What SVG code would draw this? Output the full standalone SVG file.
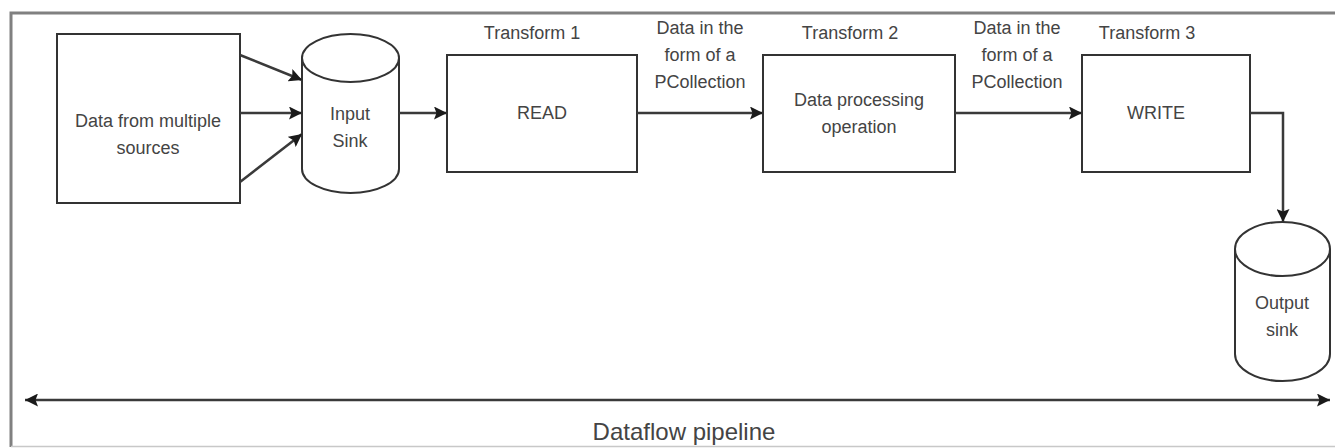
<svg xmlns="http://www.w3.org/2000/svg" width="1335" height="448" viewBox="0 0 1335 448">
<style>
.box{fill:#fff;stroke:#333;stroke-width:2}
.cyl{fill:#fff;stroke:#333;stroke-width:2}
.t{font-family:"Liberation Sans",Arial,sans-serif;font-size:18px;fill:#444;text-anchor:middle;dominant-baseline:central}
.big{font-size:24px}
.c{fill:none;stroke:#3a3a3a;stroke-width:2.5}
</style>
<defs>
<marker id="ah" markerUnits="userSpaceOnUse" markerWidth="14" markerHeight="13" refX="13" refY="6.5" orient="auto-start-reverse">
<path d="M0,0 L13,6.5 L0,13 L2.5,6.5 Z" fill="#1a1a1a"/>
</marker>
</defs>
<rect x="0" y="0" width="1335" height="448" fill="#fff"/>
<g id="frame">
<path d="M11,447 L11,13 L1335,13" fill="none" stroke="#808080" stroke-width="3"/>
<line x1="11" y1="446.5" x2="1335" y2="446.5" stroke="#c8c8c8" stroke-width="1.5"/>
</g>

<g id="sources">
<rect class="box" x="57" y="34" width="183" height="169"/>
<text class="t" x="148" y="121">Data from multiple</text>
<text class="t" x="148" y="148">sources</text>
</g>

<g id="input-sink">
<path class="cyl" d="M302,58 A48.5,24 0 0 1 399,58 L399,169 A48.5,24 0 0 1 302,169 Z"/>
<path class="cyl" d="M302,58 A48.5,24 0 0 0 399,58"/>
<text class="t" x="350" y="114">Input</text>
<text class="t" x="350" y="141">Sink</text>
</g>

<g id="read">
<text class="t" x="532" y="33">Transform 1</text>
<rect class="box" x="447" y="55" width="190" height="117"/>
<text class="t" x="542" y="113">READ</text>
</g>

<g id="process">
<text class="t" x="850" y="33">Transform 2</text>
<rect class="box" x="763" y="55" width="192" height="117"/>
<text class="t" x="859" y="100">Data processing</text>
<text class="t" x="859" y="127">operation</text>
</g>

<g id="write">
<text class="t" x="1147" y="33">Transform 3</text>
<rect class="box" x="1082" y="55" width="168" height="117"/>
<text class="t" x="1156" y="113">WRITE</text>
</g>

<g id="output-sink">
<path class="cyl" d="M1235,249 A47.5,27 0 0 1 1330,249 L1330,354 A47.5,27 0 0 1 1235,354 Z"/>
<path class="cyl" d="M1235,249 A47.5,27 0 0 0 1330,249"/>
<text class="t" x="1282" y="303">Output</text>
<text class="t" x="1282" y="330">sink</text>
</g>

<g id="labels">
<text class="t" x="700" y="28">Data in the</text>
<text class="t" x="700" y="55">form of a</text>
<text class="t" x="700" y="82">PCollection</text>
<text class="t" x="1017" y="28">Data in the</text>
<text class="t" x="1017" y="55">form of a</text>
<text class="t" x="1017" y="82">PCollection</text>
<text class="t big" x="684" y="431">Dataflow pipeline</text>
</g>

<g id="connectors">
<line class="c" x1="240" y1="55" x2="302" y2="80" marker-end="url(#ah)"/>
<line class="c" x1="240" y1="113" x2="302" y2="113" marker-end="url(#ah)"/>
<line class="c" x1="240" y1="182" x2="302" y2="134" marker-end="url(#ah)"/>
<line class="c" x1="399" y1="113" x2="447" y2="113" marker-end="url(#ah)"/>
<line class="c" x1="637" y1="113" x2="763" y2="113" marker-end="url(#ah)"/>
<line class="c" x1="955" y1="113" x2="1082" y2="113" marker-end="url(#ah)"/>
<path class="c" d="M1250,113 L1283,113 L1283,222" marker-end="url(#ah)"/>
<line class="c" x1="25" y1="400" x2="1330" y2="400" marker-start="url(#ah)" marker-end="url(#ah)"/>
</g>
</svg>
